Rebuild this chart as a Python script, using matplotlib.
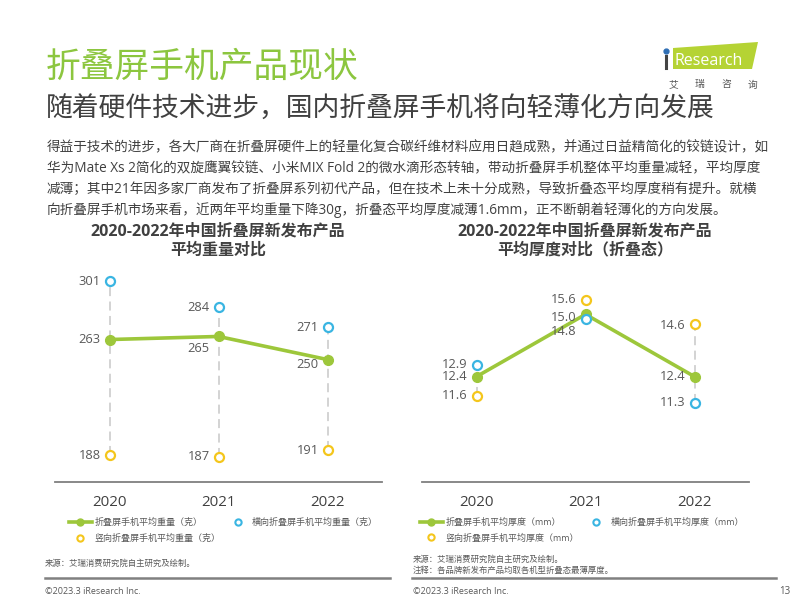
"""Foldable phone slide: average weight / thickness of new releases 2020-2022."""
import matplotlib.pyplot as plt
from matplotlib.lines import Line2D
from matplotlib.patches import Polygon

plt.rcParams['font.family'] = ['Open Sans', 'Noto Sans CJK SC', 'DejaVu Sans']

years = ['2020', '2021', '2022']
weight_avg = [263, 265, 250]
weight_landscape = [301, 284, 271]
weight_portrait = [188, 187, 191]
thick_avg = [12.4, 15.0, 12.4]
thick_landscape = [12.9, 14.8, 11.3]
thick_portrait = [11.6, 15.6, 14.6]

weight_names = ['折叠屏手机平均重量（克）', '横向折叠屏手机平均重量（克）', '竖向折叠屏手机平均重量（克）']
thick_names = ['折叠屏手机平均厚度（mm）', '横向折叠屏手机平均厚度（mm）', '竖向折叠屏手机平均厚度（mm）']

GREEN = '#9DC73B'
BLUE = '#3AB5E2'
YELLOW = '#F4C61C'
TEXT = '#404040'
GREY = '#595959'

W, H = 800, 600
fig = plt.figure(figsize=(8, 6), dpi=100)


def fx(x):
    return x / W


def fy(y):
    return 1 - y / H


def draw_chart(left, ylim, avg, land, port, fmt, dy, names, title, leg_x):
    ax = fig.add_axes([fx(left), fy(482), 327 / W, 217 / H])
    ax.patch.set_alpha(0)
    xs = list(range(len(years)))
    for i in xs:
        vals = [avg[i], land[i], port[i]]
        ax.plot([i, i], [min(vals), max(vals)], color='#d0d0d0', lw=1.3,
                ls=(0, (5, 3)), zorder=1)
    ax.plot(xs, avg, color=GREEN, lw=2.6, marker='o', ms=7, zorder=3)
    ax.plot(xs, land, ls='none', marker='o', ms=6.5, mfc='white', mec=BLUE,
            mew=1.6, zorder=4)
    ax.plot(xs, port, ls='none', marker='o', ms=6.5, mfc='white', mec=YELLOW,
            mew=1.6, zorder=4)
    for key, series in (('avg', avg), ('land', land), ('port', port)):
        for i, v in enumerate(series):
            ax.annotate(fmt.format(v), (i, v), xytext=(-9, dy.get((key, i), 0)),
                        textcoords='offset pixels', ha='right', va='center',
                        fontsize=9.3, color=GREY)
    ax.set_xlim(-0.5, 2.5)
    ax.set_ylim(*ylim)
    ax.set_xticks(xs, years)
    ax.set_yticks([])
    ax.tick_params(axis='x', length=0, pad=9, labelsize=10.8, labelcolor=TEXT)
    for s in ('top', 'left', 'right'):
        ax.spines[s].set_visible(False)
    ax.spines['bottom'].set_color('#7f7f7f')
    ax.spines['bottom'].set_linewidth(1.3)

    fig.text(fx(left + 163), fy(241), title, ha='center', va='center',
             fontsize=11.5, fontweight='bold', color=TEXT, linespacing=1.25)

    handles = [
        Line2D([], [], color=GREEN, lw=2.6, marker='o', ms=5, label=names[0]),
        Line2D([], [], ls='none', marker='o', ms=4.5, mfc='white', mec=YELLOW,
               mew=1.5, label=names[2]),
        Line2D([], [], ls='none', marker='o', ms=4.5, mfc='white', mec=BLUE,
               mew=1.5, label=names[1]),
    ]
    fig.legend(handles=handles, ncol=2, loc='upper left',
               bbox_to_anchor=(fx(leg_x), fy(518)), frameon=False,
               fontsize=6.5, handlelength=2.5, handletextpad=0.3,
               columnspacing=0.7, labelspacing=0.7, borderpad=0,
               borderaxespad=0, labelcolor=GREY)


draw_chart(55, (170.5, 311.4), weight_avg, weight_landscape, weight_portrait,
           '{:d}', {('avg', 1): -12, ('avg', 2): -5},
           weight_names, '2020-2022年中国折叠屏新发布产品\n平均重量对比', 69)
draw_chart(422, (8.0, 17.06), thick_avg, thick_landscape, thick_portrait,
           '{:.1f}', {('land', 1): -12, ('avg', 1): -3, ('port', 2): -2},
           thick_names, '2020-2022年中国折叠屏新发布产品\n平均厚度对比（折叠态）', 420)

# header
fig.text(fx(46), fy(68), '折叠屏手机产品现状', fontsize=25, color='#8CC63F',
         va='center', ha='left', fontweight='light')
fig.text(fx(46), fy(110), '随着硬件技术进步，国内折叠屏手机将向轻薄化方向发展',
         fontsize=19.3, color=TEXT, va='center', ha='left', fontweight='light')
para = [
    '得益于技术的进步，各大厂商在折叠屏硬件上的轻量化复合碳纤维材料应用日趋成熟，并通过日益精简化的铰链设计，如',
    '华为Mate Xs 2简化的双旋鹰翼铰链、小米MIX Fold 2的微水滴形态转轴，带动折叠屏手机整体平均重量减轻，平均厚度',
    '减薄；其中21年因多家厂商发布了折叠屏系列初代产品，但在技术上未十分成熟，导致折叠态平均厚度稍有提升。就横',
    '向折叠屏手机市场来看，近两年平均重量下降30g，折叠态平均厚度减薄1.6mm，正不断朝着轻薄化的方向发展。',
]
for k, line in enumerate(para):
    fig.text(fx(47), fy(148 + k * 20.8), line, fontsize=9.8, color=TEXT,
             va='center', ha='left')

# logo
fig.add_artist(Polygon([(fx(673), fy(48)), (fx(758), fy(42)), (fx(752), fy(69)),
                        (fx(673), fy(69))], closed=True, color='#B5D334', lw=0))
fig.add_artist(Line2D([fx(666), fx(666)], [fy(56), fy(68)], color='#444444', lw=2.2))
fig.add_artist(Line2D([fx(666)], [fy(51)], marker='o', ms=3.5, color='#2F6FB5',
                      ls='none'))
fig.text(fx(675), fy(61), 'Research', fontsize=11.5, color='white', va='center',
         ha='left')
for k, ch in enumerate('艾瑞咨询'):
    fig.text(fx(673 + k * 26.5), fy(85), ch, fontsize=7, color='#555555',
             va='center', ha='center')

# footer
fig.text(fx(45), fy(564), '来源：艾瑞消费研究院自主研究及绘制。', fontsize=6,
         color=GREY, va='center')
fig.text(fx(413), fy(560), '来源：艾瑞消费研究院自主研究及绘制。', fontsize=6,
         color=GREY, va='center')
fig.text(fx(413), fy(571), '注释：各品牌新发布产品均取各机型折叠态最薄厚度。',
         fontsize=6, color=GREY, va='center')
fig.add_artist(Line2D([fx(45), fx(390)], [fy(578), fy(578)], color='#808080', lw=1.8))
fig.add_artist(Line2D([fx(412), fx(776)], [fy(578), fy(578)], color='#808080', lw=1.8))
fig.text(fx(45), fy(591), '©2023.3 iResearch Inc.', fontsize=6.5, color=GREY,
         va='center')
fig.text(fx(413), fy(591), '©2023.3 iResearch Inc.', fontsize=6.5, color=GREY,
         va='center')
fig.text(fx(790), fy(591), '13', fontsize=7, color=GREY, va='center', ha='right')

fig.savefig('out.png', dpi=100)
